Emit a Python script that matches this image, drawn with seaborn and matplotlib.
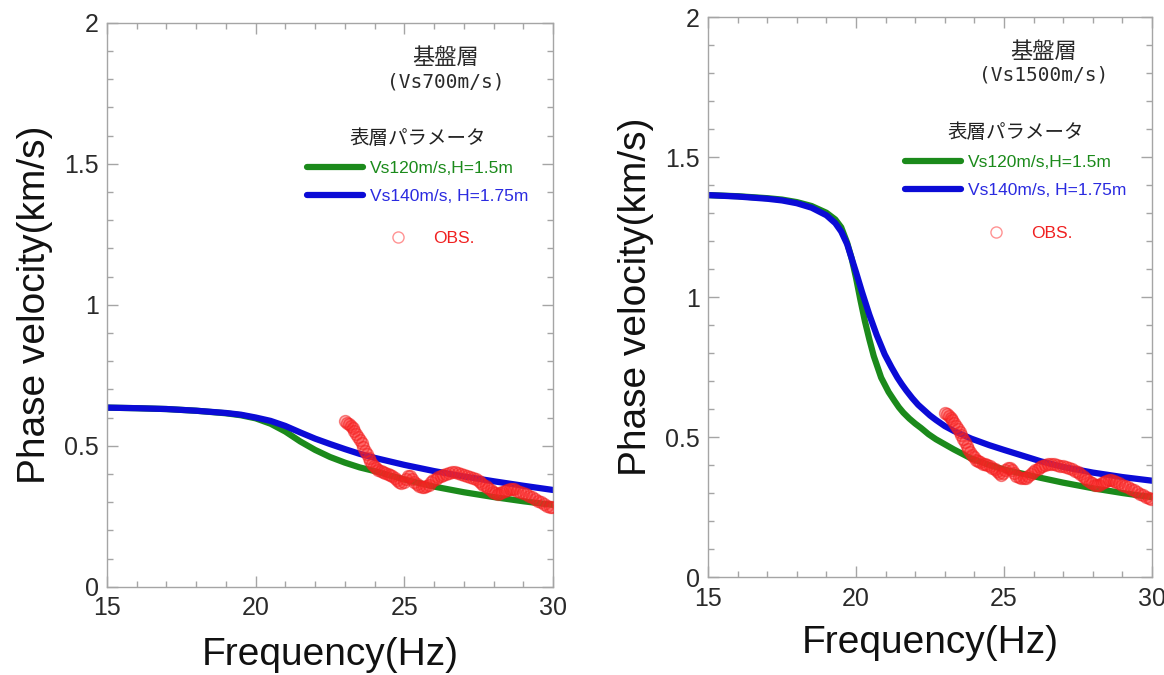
import matplotlib
matplotlib.use("Agg")
import matplotlib.pyplot as plt
import seaborn as sns
import pandas as pd
from matplotlib.ticker import MultipleLocator, FormatStrFormatter
from matplotlib.lines import Line2D

# ---------------- data ----------------
# Left panel (basement Vs700m/s)
freq_L = [15, 16, 17, 18, 19, 19.5, 20, 20.5, 21, 21.5, 22, 22.5, 23, 23.5, 24,
          25, 26, 27, 28, 29, 30]
green_L = [0.635, 0.633, 0.630, 0.624, 0.615, 0.608, 0.597, 0.578, 0.550, 0.515,
           0.485, 0.460, 0.440, 0.423, 0.410, 0.380, 0.355, 0.335, 0.318, 0.303, 0.290]
blue_L = [0.635, 0.633, 0.630, 0.624, 0.616, 0.610, 0.600, 0.588, 0.570, 0.547,
          0.525, 0.506, 0.488, 0.471, 0.457, 0.432, 0.410, 0.391, 0.374, 0.358, 0.343]

# Right panel (basement Vs1500m/s)
freq_R_green = [15, 16, 17, 17.5, 18, 18.5, 19, 19.3, 19.5, 19.7, 19.85, 20.0, 20.15,
                20.3, 20.45, 20.6, 20.85, 21.1, 21.3, 21.45, 21.6, 21.8, 22.0, 22.2,
                22.45, 22.7, 23.3, 23.9, 24.5, 25, 26.25, 27, 28, 29, 30]
green_R = [1.365, 1.361, 1.354, 1.349, 1.340, 1.326, 1.302, 1.278, 1.250, 1.195,
           1.140, 1.070, 0.990, 0.915, 0.850, 0.790, 0.713, 0.662, 0.630, 0.607,
           0.588, 0.567, 0.549, 0.533, 0.511, 0.493, 0.457, 0.424, 0.401, 0.385,
           0.355, 0.338, 0.318, 0.301, 0.286]
freq_R_blue = [15, 16, 17, 17.5, 18, 18.5, 19, 19.3, 19.5, 19.7, 19.85, 20.0, 20.2,
               20.45, 20.7, 20.97, 21.2, 21.4, 21.55, 21.7, 21.9, 22.1, 22.3, 22.5,
               22.7, 23.0, 23.3, 23.9, 24.5, 25, 26.25, 27, 28, 29, 30]
blue_R = [1.365, 1.360, 1.352, 1.346, 1.336, 1.320, 1.293, 1.265, 1.235, 1.190,
          1.140, 1.090, 1.020, 0.938, 0.865, 0.796, 0.750, 0.713, 0.689, 0.667,
          0.640, 0.616, 0.597, 0.578, 0.562, 0.540, 0.523, 0.495, 0.472, 0.455,
          0.414, 0.394, 0.374, 0.358, 0.345]

# Observed dispersion (same in both panels)
obs_freq = [23.02, 23.08, 23.14, 23.20, 23.26, 23.32, 23.38, 23.44, 23.50, 23.56,
            23.62, 23.68, 23.74, 23.80, 23.86, 23.92, 23.98, 24.05, 24.12, 24.20,
            24.28, 24.36, 24.44, 24.52, 24.60, 24.68, 24.75, 24.82, 24.90, 24.98,
            25.05, 25.12, 25.20, 25.27, 25.34, 25.42, 25.50, 25.58, 25.66, 25.74,
            25.82, 25.90, 25.98, 26.06, 26.14, 26.22, 26.30, 26.40, 26.50, 26.60,
            26.70, 26.80, 26.90, 27.00, 27.10, 27.20, 27.30, 27.40, 27.50, 27.58,
            27.66, 27.74, 27.82, 27.90, 27.98, 28.06, 28.14, 28.22, 28.30, 28.38,
            28.46, 28.54, 28.62, 28.70, 28.80, 28.90, 29.00, 29.10, 29.20, 29.30,
            29.40, 29.50, 29.60, 29.70, 29.80, 29.90, 29.97]
obs_vel = [0.588, 0.582, 0.576, 0.569, 0.561, 0.552, 0.542, 0.531, 0.520, 0.508,
           0.495, 0.482, 0.469, 0.457, 0.446, 0.436, 0.428, 0.420, 0.414, 0.410,
           0.406, 0.404, 0.401, 0.397, 0.392, 0.386, 0.378, 0.371, 0.367, 0.372,
           0.382, 0.391, 0.392, 0.383, 0.372, 0.363, 0.357, 0.354, 0.353, 0.356,
           0.362, 0.370, 0.377, 0.383, 0.388, 0.393, 0.397, 0.401, 0.403, 0.405,
           0.405, 0.402, 0.399, 0.396, 0.393, 0.390, 0.386, 0.381, 0.375, 0.369,
           0.362, 0.356, 0.349, 0.342, 0.336, 0.331, 0.329, 0.331, 0.336, 0.341,
           0.344, 0.346, 0.347, 0.345, 0.341, 0.336, 0.331, 0.327, 0.322, 0.317,
           0.311, 0.305, 0.299, 0.293, 0.287, 0.283, 0.281]

x_ticks = [15, 20, 25, 30]
y_ticks = [0, 0.5, 1, 1.5, 2]
label_green = "Vs120m/s,H=1.5m"
label_blue = "Vs140m/s, H=1.75m"
label_obs = "OBS."
legend_title = "表層パラメータ"
base_title = "基盤層"
base_L = "(Vs700m/s)"
base_R = "(Vs1500m/s)"

# ---------------- style ----------------
sns.set_style("ticks")
plt.rcParams['font.family'] = ['Liberation Sans', 'Noto Sans CJK JP', 'DejaVu Sans']

GREEN = "#1b8a1b"
BLUE = "#0b0bd6"
LW = 4.5
SPINE = "#a5a5a5"

fig = plt.figure(figsize=(11.64, 6.75), dpi=100)
W, H = 1164.0, 675.0
axL = fig.add_axes([107 / W, 1 - 586.7 / H, 446 / W, 564 / H])
axR = fig.add_axes([708 / W, 1 - 577.3 / H, 444 / W, 560 / H])

obs_df = pd.DataFrame({"f": obs_freq, "v": obs_vel})


def draw(ax, fg, g, fb, b, xlabelpad):
    sns.lineplot(x=fg, y=g, color=GREEN, lw=LW, ax=ax, legend=False)
    sns.lineplot(x=fb, y=b, color=BLUE, lw=LW, ax=ax, legend=False)
    sns.scatterplot(data=obs_df, x="f", y="v", ax=ax, s=72, legend=False,
                    facecolor=(1.0, 0.15, 0.15, 0.33),
                    edgecolor=(0.95, 0.12, 0.12, 0.55), linewidth=1.1, zorder=5)
    ax.set_xlim(15, 30)
    ax.set_ylim(0, 2)
    ax.set_xticks(x_ticks)
    ax.set_yticks(y_ticks)
    ax.xaxis.set_minor_locator(MultipleLocator(1))
    ax.yaxis.set_minor_locator(MultipleLocator(0.1))
    ax.yaxis.set_major_formatter(FormatStrFormatter('%g'))
    ax.tick_params(which='both', direction='in', top=True, right=True,
                   color=SPINE, width=1.0, labelcolor='#2a2a2a', labelsize=18)
    ax.tick_params(which='major', length=8)
    ax.tick_params(which='minor', length=4.5)
    ax.tick_params(axis='x', pad=7)
    ax.tick_params(axis='y', pad=6)
    for sp in ax.spines.values():
        sp.set_visible(True)
        sp.set_color(SPINE)
        sp.set_linewidth(1.0)
    ax.set_xlabel("Frequency(Hz)", fontsize=28, color='#111111', labelpad=xlabelpad)
    ax.set_ylabel("Phase velocity(km/s)", fontsize=28, color='#111111', labelpad=8)


draw(axL, freq_L, green_L, freq_L, blue_L, 12)
draw(axR, freq_R_green, green_R, freq_R_blue, blue_R, 10)


def annotate(cx_top, cy_top, cy_sub, sub, leg_x, leg_y, obs_x, obs_y):
    fig.text(cx_top / W, 1 - cy_top / H, base_title, ha='center', va='center',
             fontsize=16, color='#2a2a2a', family=['Noto Sans CJK JP'])
    fig.text(cx_top / W, 1 - cy_sub / H, sub, ha='center', va='center',
             fontsize=14, color='#2a2a2a', family=['DejaVu Sans Mono'])
    handles = [Line2D([], [], color=GREEN, lw=LW), Line2D([], [], color=BLUE, lw=LW)]
    leg = fig.legend(handles, [label_green, label_blue], title=legend_title,
                     loc='upper left', bbox_to_anchor=(leg_x / W, 1 - leg_y / H),
                     bbox_transform=fig.transFigure, frameon=False, fontsize=12.5,
                     title_fontsize=14, handlelength=3.2, handletextpad=0.4,
                     labelspacing=0.7, borderpad=0, borderaxespad=0,
                     labelcolor=[GREEN, "#2a2ae0"])
    leg.get_title().set_color('#222222')
    leg.get_title().set_family(['Noto Sans CJK JP'])
    h_obs = Line2D([], [], ls='none', marker='o', markersize=8,
                   markerfacecolor='none', markeredgecolor=(1, 0.4, 0.4, 0.7),
                   markeredgewidth=1.0)
    fig.legend([h_obs], [label_obs], loc='center left',
               bbox_to_anchor=(obs_x / W, 1 - obs_y / H),
               bbox_transform=fig.transFigure, frameon=False, fontsize=12.5,
               handlelength=2.0, handletextpad=1.0, borderpad=0, borderaxespad=0,
               labelcolor=["#f02020"])


annotate(446, 58, 82, base_L, 307, 128, 381, 238)
annotate(1044, 52, 75, base_R, 905, 122, 979, 233)

fig.savefig("out.png", dpi=100)
